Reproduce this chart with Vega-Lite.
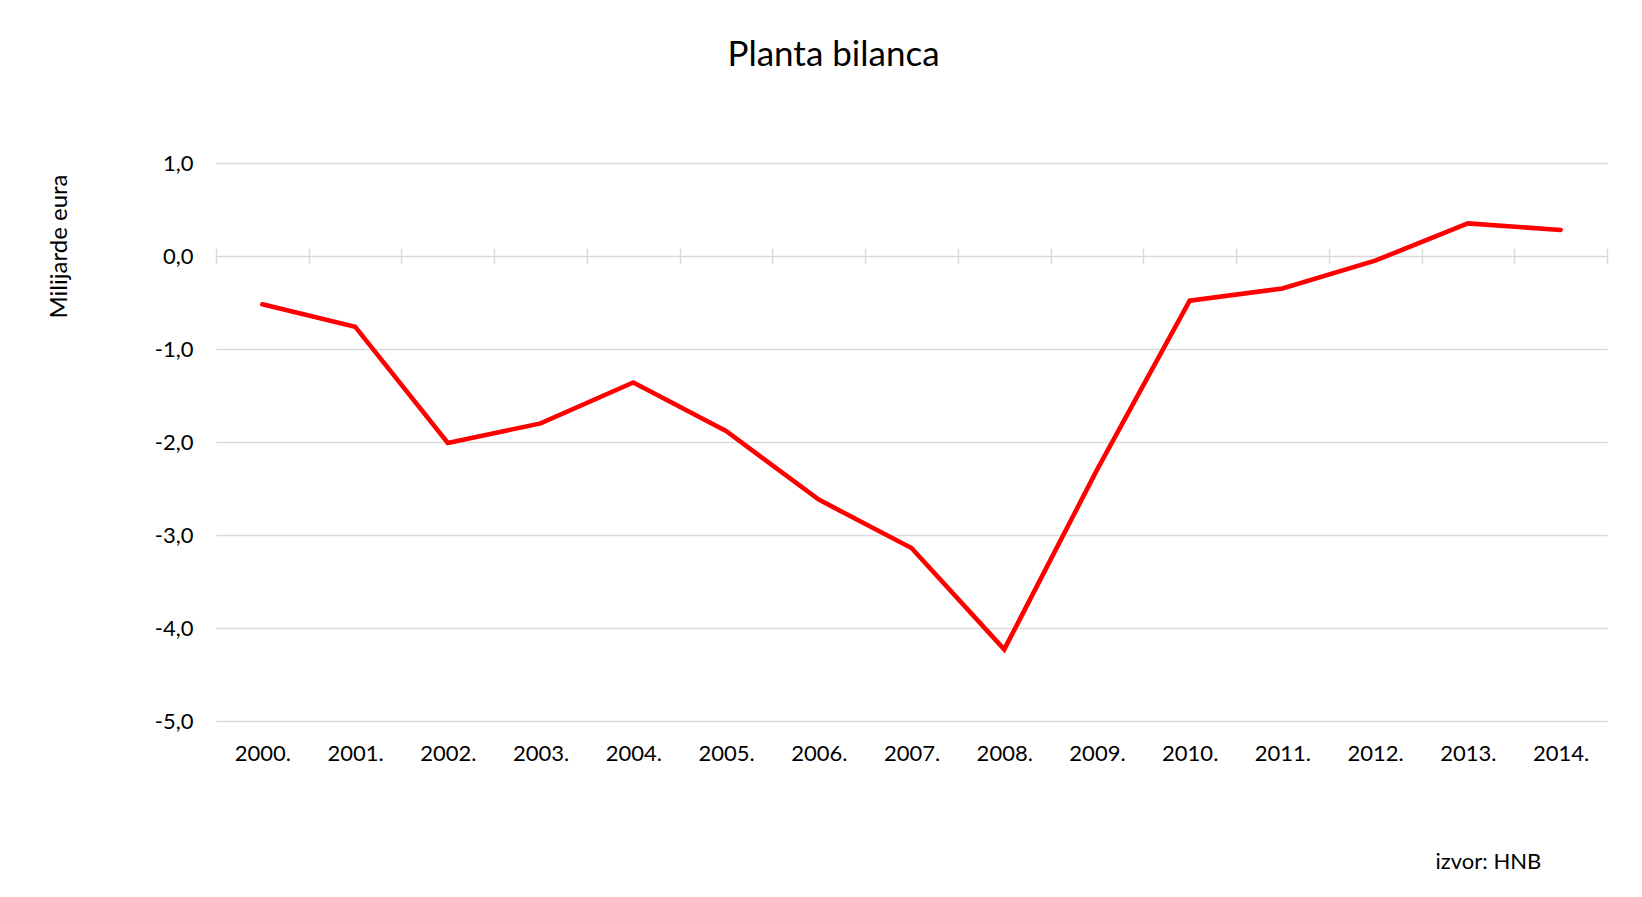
{
  "$schema": "https://vega.github.io/schema/vega-lite/v6.json",
  "width": 1391,
  "height": 558,
  "autosize": {"type": "none"},
  "padding": {"left": 216, "top": 163, "right": 35, "bottom": 176},
  "background": "white",
  "config": {
    "view": {"stroke": null},
    "font": "Lato",
    "axis": {"labelFont": "Lato", "titleFont": "Lato", "labelColor": "#000000", "titleColor": "#000000"}
  },
  "title": {
    "text": "Planta bilanca",
    "font": "Lato",
    "fontSize": 35,
    "fontWeight": "normal",
    "color": "#000000",
    "anchor": "middle",
    "frame": "group",
    "baseline": "alphabetic",
    "offset": 0,
    "dx": -78,
    "dy": -51
  },
  "data": {
    "values": [
      {"year": "2000.", "value": -0.52},
      {"year": "2001.", "value": -0.76},
      {"year": "2002.", "value": -2.01},
      {"year": "2003.", "value": -1.80},
      {"year": "2004.", "value": -1.36},
      {"year": "2005.", "value": -1.88},
      {"year": "2006.", "value": -2.62},
      {"year": "2007.", "value": -3.14},
      {"year": "2008.", "value": -4.23},
      {"year": "2009.", "value": -2.30},
      {"year": "2010.", "value": -0.48},
      {"year": "2011.", "value": -0.35},
      {"year": "2012.", "value": -0.05},
      {"year": "2013.", "value": 0.35},
      {"year": "2014.", "value": 0.28}
    ]
  },
  "mark": {"type": "line", "color": "#ff0000", "strokeWidth": 4.6, "strokeCap": "round", "strokeJoin": "miter"},
  "encoding": {
    "x": {
      "field": "year",
      "type": "ordinal",
      "sort": null,
      "bandPosition": 0.5,
      "scale": {"type": "band", "paddingInner": 0, "paddingOuter": 0},
      "axis": {
        "title": "izvor: HNB",
        "titleFontSize": 22,
        "titleFontWeight": "normal",
        "titleAlign": "left",
        "titleBaseline": "alphabetic",
        "titleAnchor": null,
        "titleX": 1219,
        "titleY": 620,
        "labelAngle": 0,
        "labelFontSize": 22,
        "labelBaseline": "alphabetic",
        "labelPadding": 497,
        "offset": -472.7,
        "domain": false,
        "grid": false,
        "ticks": true,
        "tickBand": "extent",
        "tickSize": 15,
        "tickColor": "#d9d9d9",
        "tickWidth": 1.5
      }
    },
    "y": {
      "field": "value",
      "type": "quantitative",
      "scale": {"domain": [-5, 1], "nice": false, "zero": false},
      "axis": {
        "title": "Milijarde eura",
        "titleFontSize": 24,
        "titleFontWeight": "normal",
        "titleAngle": -90,
        "titleAlign": "center",
        "titleBaseline": "alphabetic",
        "titleAnchor": null,
        "titleX": -150,
        "titleY": 83,
        "values": [-5, -4, -3, -2, -1, 0, 1],
        "labelExpr": "(datum.value < 0 ? '-' : '') + replace(format(abs(datum.value), '.1f'), '.', ',')",
        "labelFontSize": 22,
        "labelPadding": 23,
        "labelBaseline": "middle",
        "domain": false,
        "ticks": false,
        "grid": true,
        "gridColor": "#d9d9d9",
        "gridWidth": 1.5
      }
    }
  }
}
